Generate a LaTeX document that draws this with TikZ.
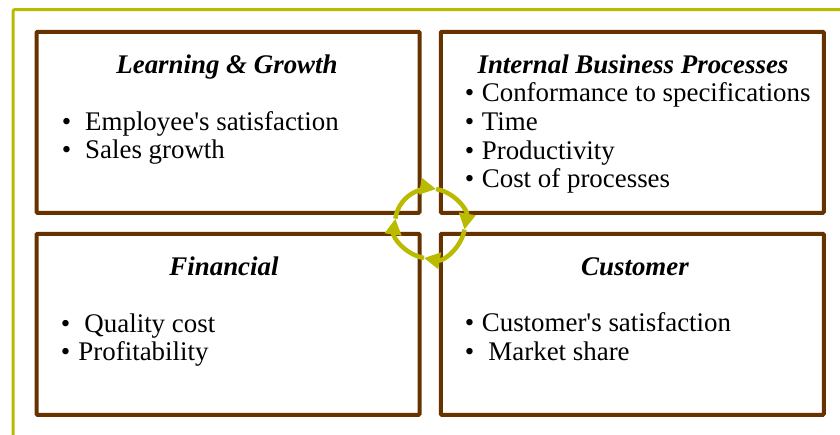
\documentclass[tikz,border=0pt]{standalone}
\usepackage{fontspec}
\setmainfont{Liberation Serif}
\usetikzlibrary{arrows.meta}
\definecolor{olivefr}{RGB}{186,186,0}
\definecolor{boxbrown}{RGB}{102,51,0}
\begin{document}
\begin{tikzpicture}[x=1pt,y=1pt,
  quad/.style={draw=boxbrown, line width=4pt, rounded corners=1pt, inner sep=0pt,
    minimum width=383pt, minimum height=181pt},
  ttl/.style={anchor=base, inner sep=0pt, font=\fontsize{26.9}{29}\selectfont\bfseries\itshape},
  itm/.style={anchor=base west, inner sep=0pt, font=\fontsize{26.9}{29}\selectfont},
  cyc/.style={draw=olivefr, line width=4.5pt, -{Triangle[length=16pt,width=16pt]}}
]
\useasboundingbox (0,0) rectangle (840,-434);
% outer frame
\coordinate (fbl) at (13,-440);
\coordinate (ftr) at (846,-9.5);
\draw[olivefr, line width=3pt, rounded corners=2pt] (fbl) |- (ftr);
% boxes
\node[quad] (lg) at (228,-122.25) {};
\node[quad] (ibp) at (632.25,-122.25) {};
\node[quad] (fin) at (228,-324.25) {};
\node[quad] (cus) at (632.25,-324.25) {};
% titles
\node[ttl] (lgt) at (227,-73.3) {Learning \& Growth};
\node[ttl] (ibpt) at (633,-73.3) {Internal Business Processes};
\node[ttl] (fint) at (224,-275) {Financial};
\node[ttl] (cust) at (635,-275) {Customer};
% items
\node[itm] (lg1) at (61.7,-130) {\makebox[23.3pt][l]{•}Employee\textquotesingle s satisfaction};
\node[itm] (lg2) at (61.7,-158.6) {\makebox[23.3pt][l]{•}Sales growth};
\node[itm] (ib1) at (464.7,-101) {\makebox[17pt][l]{•}Conformance to specifications};
\node[itm] (ib2) at (464.7,-130) {\makebox[17pt][l]{•}Time};
\node[itm] (ib3) at (464.7,-159) {\makebox[17pt][l]{•}Productivity};
\node[itm] (ib4) at (464.7,-187.7) {\makebox[17pt][l]{•}Cost of processes};
\node[itm] (fi1) at (60.7,-332.3) {\makebox[23.6pt][l]{•}Quality cost};
\node[itm] (fi2) at (60.7,-360) {\makebox[17.6pt][l]{•}Profitability};
\node[itm] (cu1) at (464.7,-331.7) {\makebox[17pt][l]{•}Customer\textquotesingle s satisfaction};
\node[itm] (cu2) at (464.7,-360) {\makebox[23.6pt][l]{•}Market share};
% cycle
\coordinate (cc) at (430,-223.5);
\draw[cyc] (cc) ++(172:35pt) arc[start angle=172, end angle=80, radius=35pt];
\draw[cyc] (cc) ++(80:35pt) arc[start angle=80, end angle=-10, radius=35pt];
\draw[cyc] (cc) ++(-10:35pt) arc[start angle=-10, end angle=-100, radius=35pt];
\draw[cyc] (cc) ++(-100:35pt) arc[start angle=-100, end angle=-188, radius=35pt];
\end{tikzpicture}
\end{document}
